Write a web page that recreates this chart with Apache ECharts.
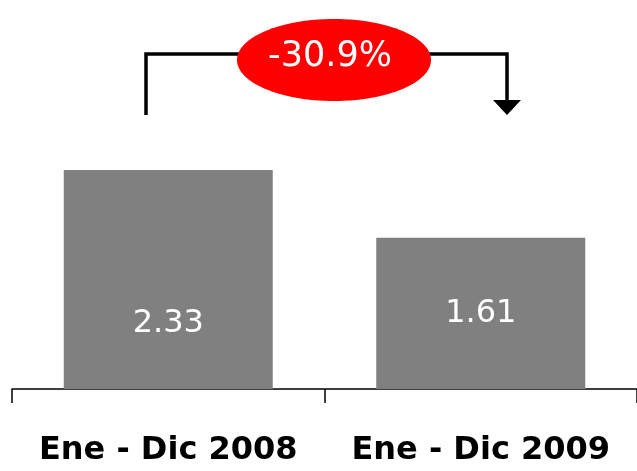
<!DOCTYPE html>
<html>
<head>
<meta charset="utf-8">
<script src="https://cdn.jsdelivr.net/npm/echarts@6/dist/echarts.min.js"></script>
<style>
html,body{margin:0;padding:0;background:#fff;}
#c{width:637px;height:471px;}
</style>
</head>
<body>
<div id="c"></div>
<script>
const categories = ['Ene - Dic 2008', 'Ene - Dic 2009'];
const values = [2.33, 1.61];
const labelOffsets = [44, 0];

const change = (values[1] - values[0]) / values[0] * 100;
const changeText = change.toFixed(1) + '%';

const chart = echarts.init(document.getElementById('c'), null, {renderer: 'canvas'});
chart.setOption({
  animation: false,
  backgroundColor: '#ffffff',
  grid: {left: 12, width: 631, top: 13, bottom: 82, containLabel: false},
  xAxis: {
    type: 'category',
    data: categories,
    axisLine: {show: true, lineStyle: {color: '#000', width: 1.5}},
    axisTick: {show: true, interval: 0, length: 14, lineStyle: {color: '#000', width: 1.5}},
    axisLabel: {
      interval: 0, hideOverlap: false,
      color: '#000', fontFamily: 'DejaVu Sans', fontWeight: 'bold', fontSize: 32,
      margin: 46
    }
  },
  yAxis: {
    type: 'value', min: 0, max: 4,
    show: false,
    splitLine: {show: false}
  },
  series: [{
    type: 'bar',
    barWidth: 209,
    itemStyle: {color: '#808080'},
    data: values.map((v, i) => ({
      value: v,
      label: {offset: [0, labelOffsets[i]]}
    })),
    label: {
      show: true, position: 'inside',
      color: '#fff', fontFamily: 'DejaVu Sans', fontSize: 32,
      formatter: p => p.value.toFixed(2)
    }
  }],
  graphic: [
    {type: 'polyline', z: 10, shape: {points: [[146,115],[146,54],[507,54],[507,102]]},
     style: {stroke: '#000', lineWidth: 3.5, fill: null}},
    {type: 'polygon', z: 10, shape: {points: [[493,100],[521,100],[507,115]]},
     style: {fill: '#000'}},
    {type: 'ellipse', z: 11, shape: {cx: 334, cy: 60, rx: 97, ry: 41},
     style: {fill: '#FF0000'}},
    {type: 'text', z: 12, x: 330, y: 57,
     style: {text: changeText, fill: '#fff', font: '35px "DejaVu Sans"', textAlign: 'center', textVerticalAlign: 'middle'}}
  ]
});
</script>
</body>
</html>
